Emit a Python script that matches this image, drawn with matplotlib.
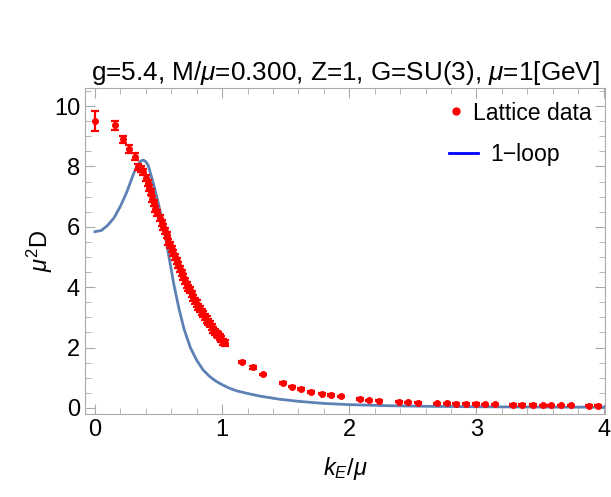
import matplotlib
matplotlib.use("Agg")
import matplotlib.pyplot as plt
from matplotlib.lines import Line2D
from matplotlib.ticker import MultipleLocator

plt.rcParams['font.family'] = ['Liberation Sans', 'DejaVu Sans']
plt.rcParams['mathtext.fontset'] = 'custom'
plt.rcParams['mathtext.rm'] = 'Liberation Sans'
plt.rcParams['mathtext.it'] = 'Liberation Sans:italic'

# lattice data: momentum k_E/mu, mu^2 D, error
lat_k = [0.000, 0.157, 0.218, 0.270, 0.314, 0.340, 0.362, 0.380, 0.400, 0.414,
         0.426, 0.438, 0.452, 0.464, 0.472, 0.490, 0.511, 0.524, 0.537, 0.550,
         0.563, 0.578, 0.590, 0.603, 0.616, 0.629, 0.642, 0.655, 0.668, 0.681,
         0.694, 0.707, 0.722, 0.735, 0.747, 0.760, 0.773, 0.786, 0.799, 0.812,
         0.825, 0.838, 0.852, 0.865, 0.878, 0.891, 0.904, 0.917, 0.930, 0.943,
         0.956, 0.969, 0.982, 0.995, 1.009, 1.020,
         1.160, 1.240, 1.323, 1.476, 1.549, 1.621, 1.700, 1.782, 1.855, 1.936,
         2.086, 2.156, 2.235, 2.390, 2.463, 2.540, 2.690, 2.765, 2.843, 2.917,
         2.995, 3.066, 3.145, 3.289, 3.362, 3.441, 3.520, 3.590, 3.663, 3.740,
         3.884, 3.957]
lat_d = [9.52, 9.37, 8.90, 8.58, 8.32, 7.98, 7.90, 7.82, 7.62, 7.45,
         7.28, 7.15, 6.92, 6.78, 6.60, 6.45, 6.28, 6.12, 6.00, 5.85,
         5.72, 5.50, 5.40, 5.28, 5.12, 5.00, 4.87, 4.74, 4.60, 4.46,
         4.35, 4.22, 4.08, 3.98, 3.90, 3.76, 3.64, 3.55, 3.46, 3.36,
         3.27, 3.19, 3.10, 3.02, 2.93, 2.86, 2.79, 2.68, 2.58, 2.52,
         2.46, 2.41, 2.34, 2.27, 2.20, 2.15,
         1.53, 1.35, 1.12, 0.83, 0.71, 0.63, 0.53, 0.47, 0.43, 0.39,
         0.30, 0.25, 0.24, 0.21, 0.19, 0.18, 0.155, 0.15, 0.14, 0.135,
         0.13, 0.12, 0.115, 0.10, 0.10, 0.095, 0.09, 0.09, 0.085, 0.085,
         0.075, 0.075]
lat_err = [0.33, 0.15, 0.12, 0.12, 0.12] + [0.10] * 51 + \
          [0.03, 0.05] + [0.02] * 30

# 1-loop curve
loop_k = [0.00, 0.05, 0.10, 0.15, 0.20, 0.25, 0.30, 0.33, 0.36, 0.38,
          0.40, 0.42, 0.46, 0.50, 0.54, 0.58, 0.62, 0.66, 0.70, 0.75,
          0.80, 0.85, 0.90, 0.95, 1.00, 1.06, 1.12, 1.20, 1.30, 1.45,
          1.60, 1.80, 2.00, 2.30, 2.60, 3.00, 3.50, 4.00]
loop_d = [5.84, 5.88, 6.05, 6.30, 6.68, 7.15, 7.72, 8.02, 8.18, 8.21,
          8.16, 8.02, 7.42, 6.75, 6.00, 5.05, 4.10, 3.30, 2.62, 2.00,
          1.58, 1.26, 1.05, 0.89, 0.77, 0.65, 0.56, 0.48, 0.39, 0.29,
          0.22, 0.15, 0.11, 0.075, 0.055, 0.04, 0.03, 0.025]

title = "g=5.4, M/$\\mu$=0.300, Z=1, G=SU(3), $\\mu$=1[GeV]"

fig = plt.figure(figsize=(6.11, 4.97), dpi=100)
ax = fig.add_axes([0.139, 0.167, 0.851, 0.656])

ax.plot(loop_k, loop_d, color='#5E81B5', lw=2.0, zorder=2)
ax.errorbar(lat_k, lat_d, yerr=lat_err, fmt='o', color='red', ms=4,
            elinewidth=1.6, capsize=3, capthick=1.6, zorder=3)

ax.set_xlim(-0.079, 4.01)
ax.set_ylim(-0.2, 10.6)
ax.xaxis.set_major_locator(MultipleLocator(1))
ax.xaxis.set_minor_locator(MultipleLocator(0.2))
ax.yaxis.set_major_locator(MultipleLocator(2))
ax.yaxis.set_minor_locator(MultipleLocator(0.5))

for s in ax.spines.values():
    s.set_color('#aaaaaa')
ax.tick_params(which='both', direction='in', top=True, right=True,
               color='#aaaaaa', labelsize=17)
ax.tick_params(which='major', length=7)
ax.tick_params(which='minor', length=4)

ax.set_xlabel("$k_E/\\mu$", fontsize=17, labelpad=10)
ax.set_ylabel("$\\mu^2$D", fontsize=17, labelpad=-1)
ax.set_title(title, fontsize=18.8, pad=6)

# legend entries placed like the original (Mathematica) legend
leg1 = fig.legend([Line2D([], [], ls='none', marker='o', color='red', ms=5)],
                  ["Lattice data"], loc='center left',
                  bbox_to_anchor=(449 / 611, 1 - 113 / 497), frameon=False,
                  fontsize=16.6, handlelength=0.6, handletextpad=0.45,
                  borderpad=0, borderaxespad=0)
leg2 = fig.legend([Line2D([], [], color='blue', lw=2)], ["1\u2212loop"],
                  loc='center left', bbox_to_anchor=(449 / 611, 1 - 155 / 497),
                  frameon=False, fontsize=16.6, handlelength=1.25,
                  handletextpad=0.52, borderpad=0, borderaxespad=0)

fig.savefig("out.png", dpi=100)
